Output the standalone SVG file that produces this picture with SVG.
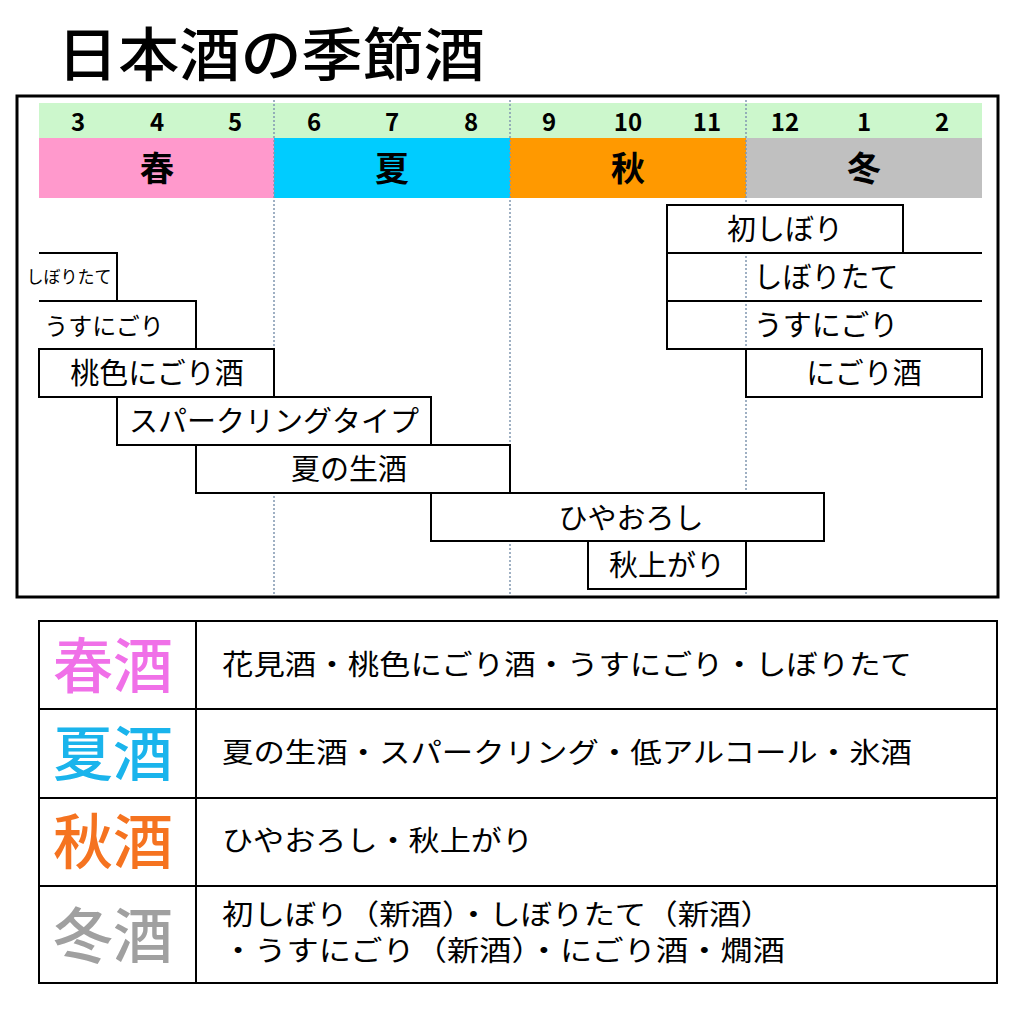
<svg xmlns="http://www.w3.org/2000/svg" width="1024" height="1016" viewBox="0 0 1024 1016">
<style>
text{font-family:"Noto Sans CJK JP","Liberation Sans",sans-serif;fill:#000}
.m{font-family:"Liberation Sans",sans-serif;font-weight:bold;font-size:24px;text-anchor:middle}
.s{font-size:34px;font-weight:bold;text-anchor:middle}
.b{fill:#fff;stroke:#000;stroke-width:2}
.l{fill:none;stroke:#000;stroke-width:2}
.t{font-size:29px;text-anchor:middle}
.g{stroke:#000;stroke-width:2;fill:none}
.k{font-size:60px;font-weight:500;text-anchor:middle}
.d{font-size:28px}
</style>
<rect width="1024" height="1016" fill="#fff"/>
<text x="57" y="76" font-size="58" font-weight="500" textLength="428" lengthAdjust="spacingAndGlyphs">日本酒の季節酒</text>
<rect x="17" y="96" width="981" height="501" fill="#fff" stroke="#000" stroke-width="3"/>
<rect x="39" y="103" width="943" height="35" fill="#ccf7cc"/>
<rect x="39" y="138" width="235" height="60" fill="#ff99cc"/>
<rect x="274" y="138" width="236" height="60" fill="#00ccff"/>
<rect x="510" y="138" width="236" height="60" fill="#ff9900"/>
<rect x="746" y="138" width="236" height="60" fill="#c0c0c0"/>
<g class="m">
<text x="78" y="131">3</text><text x="157" y="131">4</text><text x="235" y="131">5</text>
<text x="314" y="131">6</text><text x="392" y="131">7</text><text x="471" y="131">8</text>
<text x="549" y="131">9</text><text x="628" y="131">10</text><text x="707" y="131">11</text>
<text x="785" y="131">12</text><text x="864" y="131">1</text><text x="942" y="131">2</text>
</g>
<text class="s" x="157" y="181">春</text>
<text class="s" x="392" y="181">夏</text>
<text class="s" x="628" y="181">秋</text>
<text class="s" x="864" y="181">冬</text>
<g id="connectors" stroke="#8096b0" stroke-width="1.5" stroke-dasharray="2,2">
<line x1="274" y1="100" x2="274" y2="596"/>
<line x1="510" y1="100" x2="510" y2="596"/>
<line x1="746" y1="100" x2="746" y2="596"/>
</g>
<g id="hatsushibori"><rect class="b" x="667" y="205" width="236" height="48"/><text class="t" x="785" y="240">初しぼり</text></g>
<g id="shiboritate-w"><path class="l" d="M982 253H667V301H982"/><text class="t" x="826" y="288">しぼりたて</text></g>
<g id="usunigori-w"><path class="l" d="M982 301H667V349H982"/><text class="t" x="826" y="336">うすにごり</text></g>
<g id="nigorizake"><rect class="b" x="746" y="349" width="236" height="48"/><text class="t" x="864" y="384">にごり酒</text></g>
<g id="shiboritate-s"><path class="l" d="M39 253H117V301"/><text x="69" y="283" font-size="17" text-anchor="middle">しぼりたて</text></g>
<g id="usunigori-s"><path class="l" d="M39 301H196V349"/><text x="104" y="335" font-size="24" text-anchor="middle">うすにごり</text></g>
<g id="momoiro"><rect class="b" x="39" y="349" width="235" height="48"/><text class="t" x="157" y="384">桃色にごり酒</text></g>
<g id="sparkling"><rect class="b" x="117" y="397" width="314" height="48"/><text class="t" x="274" y="432">スパークリングタイプ</text></g>
<g id="natsunonama"><rect class="b" x="196" y="445" width="314" height="48"/><text class="t" x="349" y="480">夏の生酒</text></g>
<g id="hiyaoroshi"><rect class="b" x="431" y="493" width="393" height="48"/><text class="t" x="631" y="529" font-size="31">ひやおろし</text></g>
<g id="akiagari"><rect class="b" x="588" y="541" width="158" height="48"/><text class="t" x="667" y="576">秋上がり</text></g>
<g id="legend">
<rect class="g" x="39" y="621" width="958" height="362"/>
<line class="g" x1="196" y1="621" x2="196" y2="983"/>
<line class="g" x1="39" y1="709" x2="997" y2="709"/>
<line class="g" x1="39" y1="798" x2="997" y2="798"/>
<line class="g" x1="39" y1="886" x2="997" y2="886"/>
<text class="k" x="113" y="688" style="fill:#f070e8">春酒</text>
<text class="k" x="113" y="776" style="fill:#1ab4ec">夏酒</text>
<text class="k" x="113" y="864" style="fill:#f57320">秋酒</text>
<text class="k" x="113" y="958" style="fill:#a0a0a0">冬酒</text>
<text class="d" x="222" y="675" textLength="690" lengthAdjust="spacingAndGlyphs">花見酒・桃色にごり酒・うすにごり・しぼりたて</text>
<text class="d" x="222" y="763" textLength="690" lengthAdjust="spacingAndGlyphs">夏の生酒・スパークリング・低アルコール・氷酒</text>
<text class="d" x="222" y="851" textLength="311" lengthAdjust="spacingAndGlyphs">ひやおろし・秋上がり</text>
<text class="d" x="222" y="925" textLength="550" lengthAdjust="spacingAndGlyphs">初しぼり（新酒）・しぼりたて（新酒）</text>
<text class="d" x="222" y="961" textLength="563" lengthAdjust="spacingAndGlyphs">・うすにごり（新酒）・にごり酒・燗酒</text>
</g>
</svg>
